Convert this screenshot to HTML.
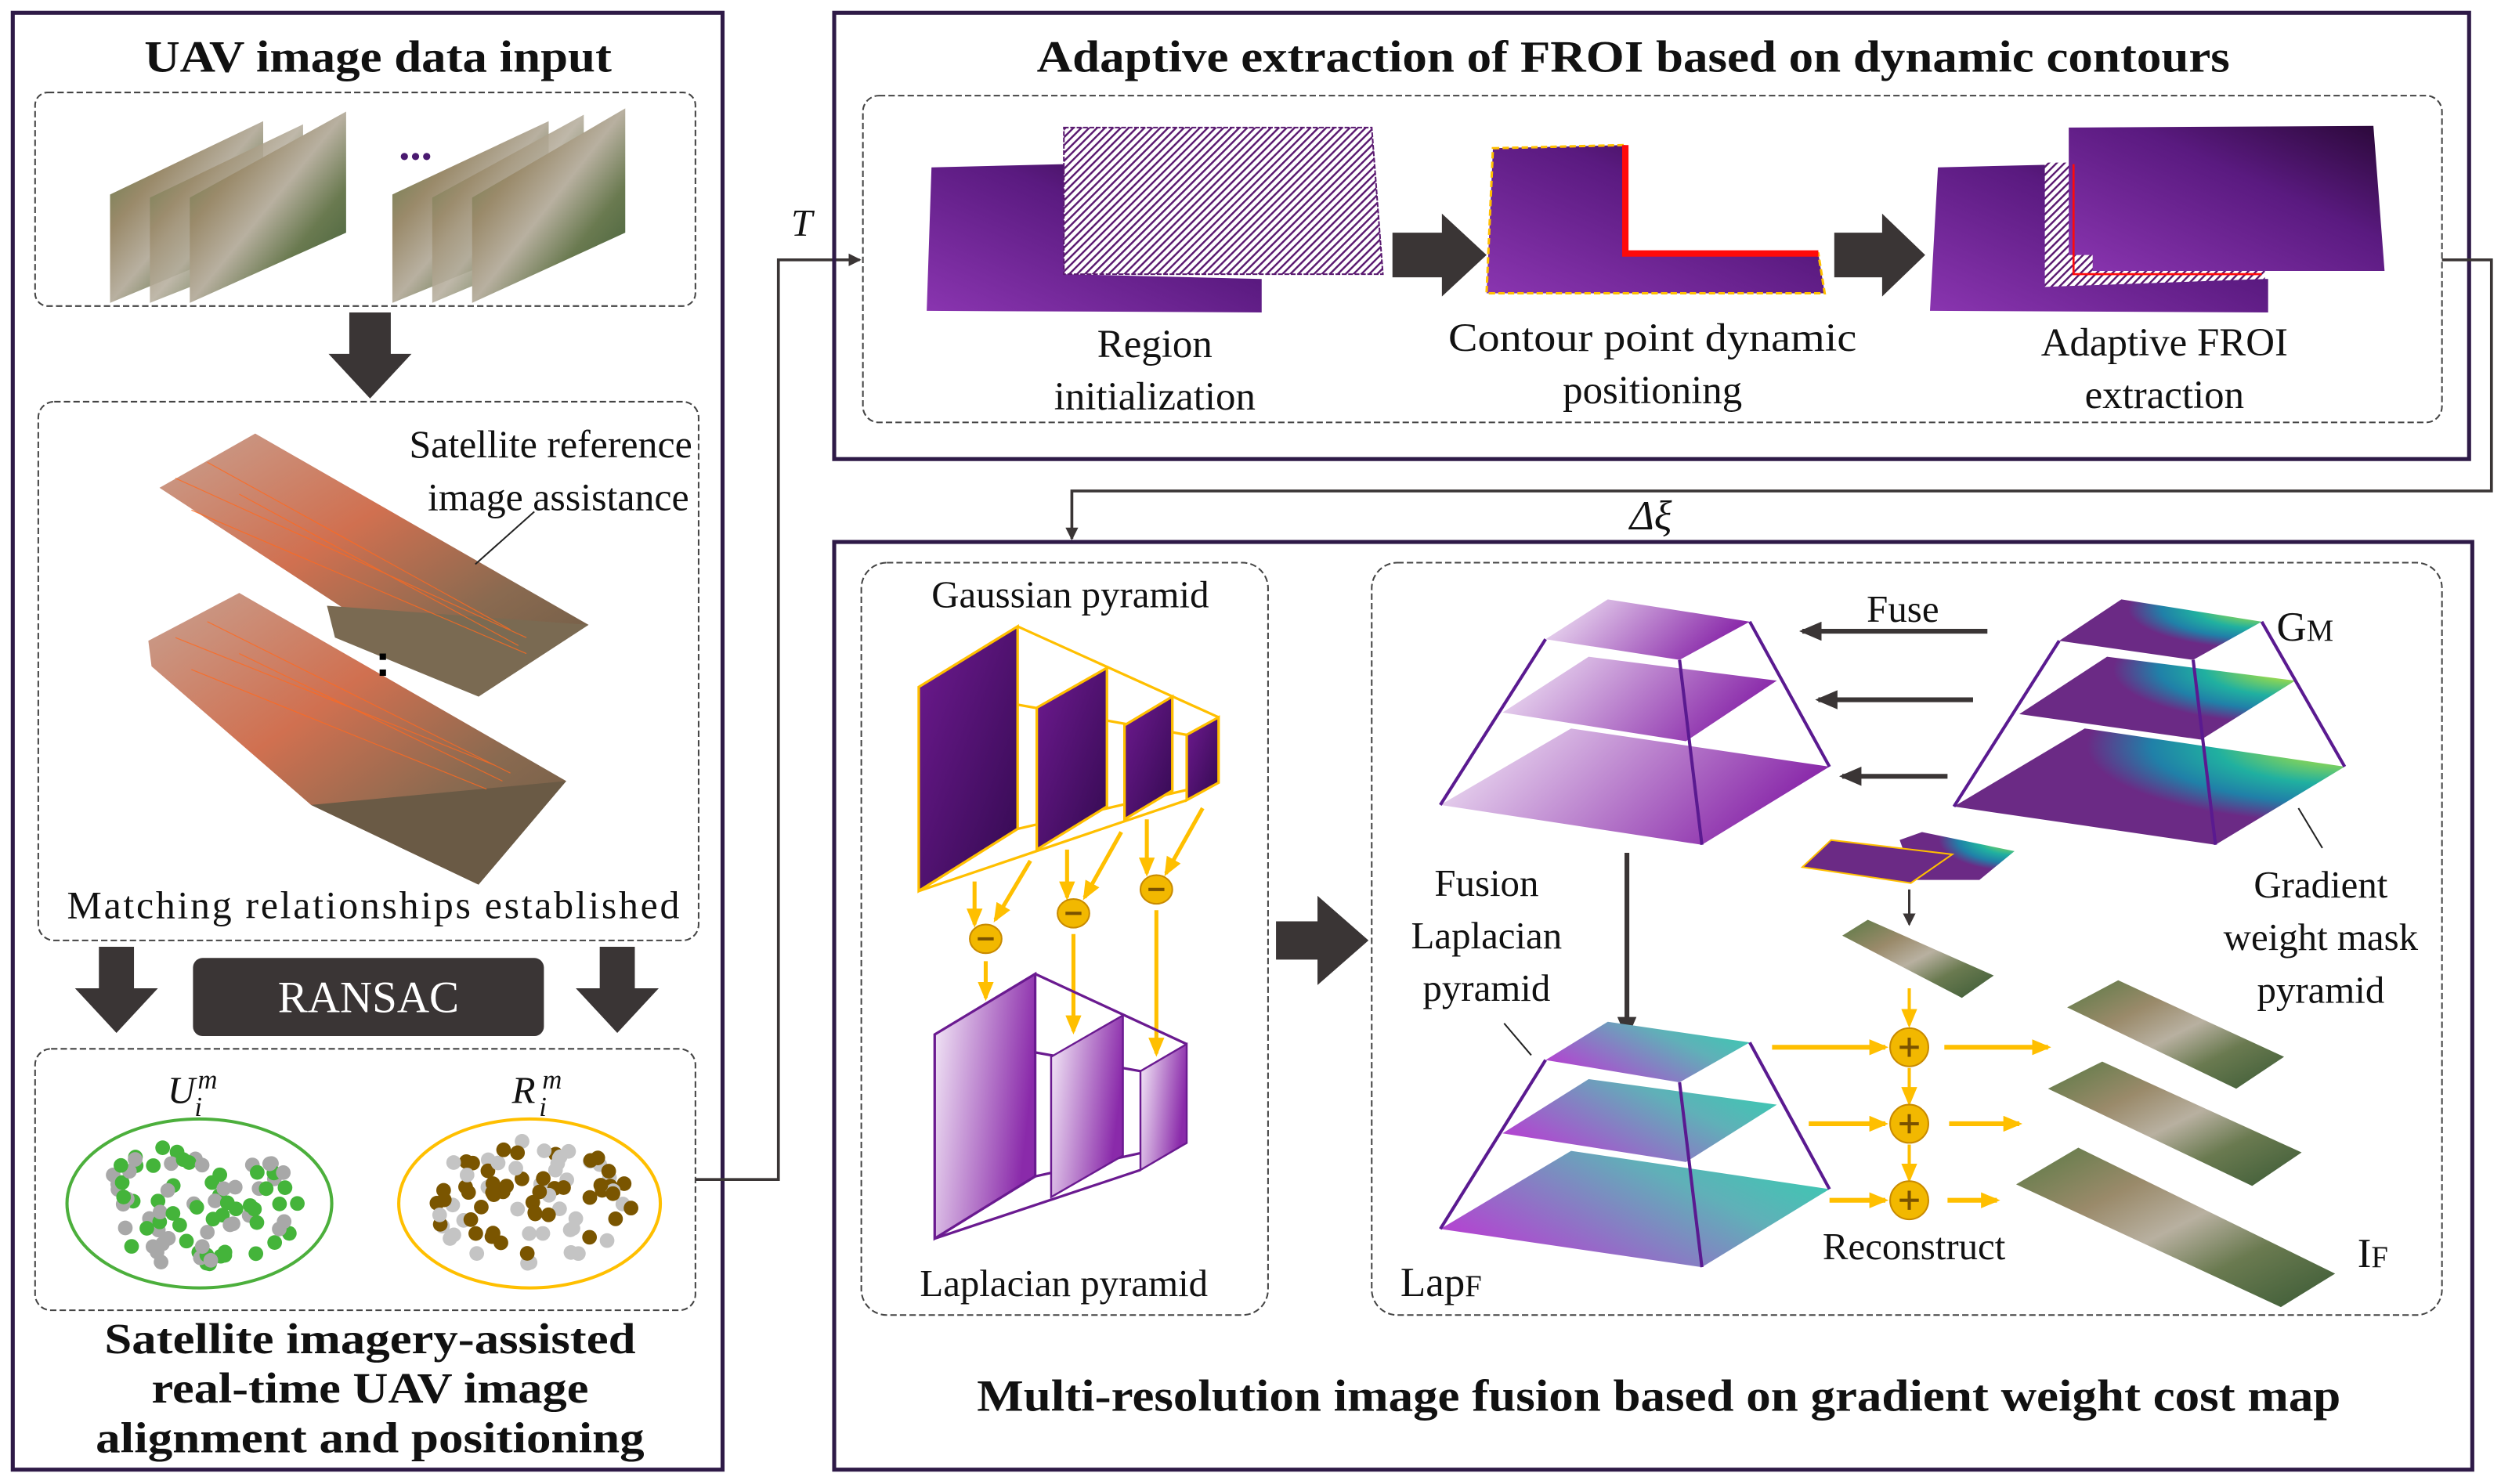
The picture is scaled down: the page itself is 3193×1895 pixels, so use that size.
<!DOCTYPE html>
<html><head><meta charset="utf-8"><style>
html,body{margin:0;padding:0;background:#fff}
svg{display:block}
text{font-family:"Liberation Serif",serif;fill:#111}
</style></head><body>
<svg id="s" width="3193" height="1895" viewBox="0 0 1568 931" preserveAspectRatio="none" xmlns="http://www.w3.org/2000/svg">
<defs>
<linearGradient id="pur" x1="0" y1="1" x2="1" y2="0"><stop offset="0" stop-color="#8a35b0"/><stop offset="0.6" stop-color="#5a1a80"/><stop offset="1" stop-color="#2a0838"/></linearGradient>
<linearGradient id="dk" x1="0" y1="0" x2="1" y2="1"><stop offset="0" stop-color="#6e1a90"/><stop offset="1" stop-color="#330a50"/></linearGradient>
<linearGradient id="lt" x1="0" y1="0" x2="1" y2="0.3"><stop offset="0" stop-color="#f6eef9"/><stop offset="1" stop-color="#8a2aaa"/></linearGradient>
<radialGradient id="vir" cx="1" cy="0.15" r="1.1" fx="1" fy="0.15"><stop offset="0" stop-color="#f5f020"/><stop offset="0.15" stop-color="#7ad060"/><stop offset="0.3" stop-color="#20b0a0"/><stop offset="0.45" stop-color="#2080a8"/><stop offset="0.6" stop-color="#6b2a85"/><stop offset="1" stop-color="#6b2a85"/></radialGradient>
<linearGradient id="lap" x1="0" y1="0.6" x2="1" y2="0"><stop offset="0" stop-color="#b048d0"/><stop offset="0.6" stop-color="#60b0b8"/><stop offset="1" stop-color="#30d0b0"/></linearGradient>
<linearGradient id="aer" x1="0" y1="0" x2="1" y2="1"><stop offset="0" stop-color="#5a7a45"/><stop offset="0.3" stop-color="#9a8a6a"/><stop offset="0.5" stop-color="#b8b0a0"/><stop offset="0.7" stop-color="#6a7a50"/><stop offset="1" stop-color="#3a5a35"/></linearGradient>
<linearGradient id="mat" x1="0" y1="0" x2="1" y2="1"><stop offset="0" stop-color="#c8a090"/><stop offset="0.4" stop-color="#d07050"/><stop offset="0.7" stop-color="#8a6a50"/><stop offset="1" stop-color="#6a5a45"/></linearGradient>
<pattern id="hatch" width="3.5" height="3.5" patternUnits="userSpaceOnUse" patternTransform="rotate(45)"><rect width="3.5" height="3.5" fill="#fff"/><rect width="1.2" height="3.5" fill="#5a1a70"/></pattern>
<marker id="ah" markerWidth="8" markerHeight="8" refX="7" refY="4" orient="auto" markerUnits="userSpaceOnUse"><path d="M0,0 L8,4 L0,8z" fill="#3a3535"/></marker>
<marker id="ahb" markerWidth="14" markerHeight="12" refX="12" refY="6" orient="auto" markerUnits="userSpaceOnUse"><path d="M0,0 L14,6 L0,12z" fill="#3a3535"/></marker>
<marker id="ay" markerWidth="12" markerHeight="10" refX="10" refY="5" orient="auto" markerUnits="userSpaceOnUse"><path d="M0,0 L12,5 L0,10z" fill="#ffbf00"/></marker>
</defs>

<!-- LEFT PANEL -->
<rect x="8" y="8" width="445" height="914" fill="none" stroke="#2e1a47" stroke-width="2.5"/>
<text x="237" y="45" font-size="28" font-weight="bold" text-anchor="middle" textLength="293" lengthAdjust="spacingAndGlyphs">UAV image data input</text>
<rect x="22" y="58" width="414" height="134" rx="8" fill="none" stroke="#444" stroke-dasharray="4,2" stroke-width="1"/>
<polygon points="69,122 165,76 165,150 69,190" fill="url(#aer)"/>
<polygon points="94,124 190,78 190,152 94,190" fill="url(#aer)" opacity="0.9"/>
<polygon points="119,124 217,70 217,146 119,190" fill="url(#aer)"/>
<polygon points="246,122 344,76 344,150 246,190" fill="url(#aer)"/>
<polygon points="271,124 366,72 366,150 271,190" fill="url(#aer)" opacity="0.9"/>
<polygon points="296,124 392,68 392,146 296,190" fill="url(#aer)"/>
<text x="250" y="100" font-size="28" font-weight="bold" style="fill:#4a1a70">...</text>
<polygon points="219,196 245,196 245,222 258,222 232,250 206,222 219,222" fill="#3a3535"/>
<rect x="24" y="252" width="414" height="338" rx="10" fill="none" stroke="#444" stroke-dasharray="4,2" stroke-width="1"/>
<polygon points="100,306 160,272 369,392 300,437" fill="url(#mat)"/>
<polygon points="205,380 369,392 300,437 210,400" fill="#7a6a52"/>
<polygon points="93,402 150,372 355,490 300,555 195,505 95,418" fill="url(#mat)"/>
<polygon points="195,505 355,490 300,555" fill="#6a5a45"/>
<g stroke="#ff6a20" stroke-width="0.6" opacity="0.8">
<line x1="110" y1="300" x2="330" y2="400"/><line x1="130" y1="290" x2="320" y2="395"/><line x1="150" y1="310" x2="325" y2="405"/><line x1="120" y1="320" x2="330" y2="410"/>
<line x1="110" y1="400" x2="310" y2="480"/><line x1="130" y1="390" x2="320" y2="485"/><line x1="150" y1="410" x2="315" y2="490"/><line x1="120" y1="420" x2="305" y2="495"/>
</g>
<rect x="238" y="410" width="4" height="4" fill="#000"/><rect x="238" y="420" width="4" height="4" fill="#000"/>
<line x1="335" y1="321" x2="298" y2="354" stroke="#222" stroke-width="1"/>
<text x="434" y="287" font-size="24.5" text-anchor="end">Satellite reference</text>
<text x="432" y="320" font-size="24.5" text-anchor="end">image assistance</text>
<text x="234" y="576" font-size="24.5" text-anchor="middle" textLength="384">Matching relationships established</text>
<polygon points="62,594 84,594 84,620 99,620 73,648 47,620 62,620" fill="#3a3535"/>
<polygon points="376,594 398,594 398,620 413,620 387,648 361,620 376,620" fill="#3a3535"/>
<rect x="121" y="601" width="220" height="49" rx="6" fill="#3a3535"/>
<text x="231" y="635" font-size="28" text-anchor="middle" style="fill:#fff">RANSAC</text>
<rect x="22" y="658" width="414" height="164" rx="10" fill="none" stroke="#444" stroke-dasharray="4,2" stroke-width="1"/>
<text x="105" y="692" font-size="24" font-style="italic">U</text><text x="124" y="683" font-size="17" font-style="italic">m</text><text x="122" y="700" font-size="17" font-style="italic">i</text>
<text x="321" y="692" font-size="24" font-style="italic">R</text><text x="340" y="683" font-size="17" font-style="italic">m</text><text x="338" y="700" font-size="17" font-style="italic">i</text>
<ellipse cx="125" cy="755" rx="83" ry="53" fill="none" stroke="#4caf3c" stroke-width="2"/>
<ellipse cx="332" cy="755" rx="82" ry="53" fill="none" stroke="#ffbf00" stroke-width="2"/>
<g id="dots"></g>
<text x="232" y="849" font-size="27" font-weight="bold" text-anchor="middle" textLength="333" lengthAdjust="spacingAndGlyphs">Satellite imagery-assisted</text>
<text x="232" y="880" font-size="27" font-weight="bold" text-anchor="middle" textLength="274" lengthAdjust="spacingAndGlyphs">real-time UAV image</text>
<text x="232" y="911" font-size="27" font-weight="bold" text-anchor="middle" textLength="344" lengthAdjust="spacingAndGlyphs">alignment and positioning</text>

<!-- T connector -->
<polyline points="436,740 488,740 488,163 539,163" fill="none" stroke="#3a3535" stroke-width="1.8" marker-end="url(#ah)"/>
<text x="496" y="148" font-size="24" font-style="italic">T</text>

<!-- TOP RIGHT PANEL -->
<rect x="523" y="8" width="1025" height="280" fill="none" stroke="#2e1a47" stroke-width="2.5"/>
<text x="1024" y="45" font-size="28" font-weight="bold" text-anchor="middle" textLength="748" lengthAdjust="spacingAndGlyphs">Adaptive extraction of FROI based on dynamic contours</text>
<rect x="541" y="60" width="990" height="205" rx="10" fill="none" stroke="#444" stroke-dasharray="4,2" stroke-width="1"/>
<polygon points="584,105 667,103 667,172 791,175 791,196 581,195" fill="url(#pur)"/>
<polygon points="667,80 860,80 867,172 667,172" fill="url(#hatch)" stroke="#5a1a70" stroke-width="1" stroke-dasharray="3,1"/>
<polygon points="873,146 904,146 904,134 932,160 904,186 904,174 873,174" fill="#3a3535"/>
<polygon points="936,93 1019,91 1019,159 1140,159 1144,184 932,184" fill="url(#pur)" stroke="#ffbf00" stroke-width="1.5" stroke-dasharray="4,2"/>
<polyline points="1019,91 1019,159 1140,159" fill="none" stroke="#ff0a0a" stroke-width="4"/>
<polygon points="1150,146 1180,146 1180,134 1207,160 1180,186 1180,174 1150,174" fill="#3a3535"/>
<polygon points="1215,105 1300,103 1300,172 1422,175 1422,196 1210,195" fill="url(#pur)"/>
<polygon points="1282,102 1420,102 1420,175 1282,180" fill="url(#hatch)"/>
<polygon points="1297,80 1488,79 1495,170 1312,170 1312,160 1297,160" fill="url(#pur)"/>
<polyline points="1300,103 1300,172 1418,172" fill="none" stroke="#ff0a0a" stroke-width="1.3"/>
<text x="724" y="224" font-size="25" text-anchor="middle">Region</text>
<text x="724" y="257" font-size="25" text-anchor="middle">initialization</text>
<text x="1036" y="220" font-size="25" text-anchor="middle" textLength="256" lengthAdjust="spacingAndGlyphs">Contour point dynamic</text>
<text x="1036" y="253" font-size="25" text-anchor="middle">positioning</text>
<text x="1357" y="223" font-size="25" text-anchor="middle">Adaptive FROI</text>
<text x="1357" y="256" font-size="25" text-anchor="middle">extraction</text>

<!-- Δξ connector -->
<polyline points="1531,163 1562,163 1562,308 672,308 672,338" fill="none" stroke="#3a3535" stroke-width="1.8" marker-end="url(#ah)"/>
<text x="1035" y="332" font-size="26" text-anchor="middle" font-style="italic">Δξ</text>

<!-- BOTTOM RIGHT PANEL -->
<rect x="523" y="340" width="1027" height="582" fill="none" stroke="#2e1a47" stroke-width="2.5"/>
<rect x="540" y="353" width="255" height="472" rx="16" fill="none" stroke="#444" stroke-dasharray="4,2" stroke-width="1"/>
<text x="671" y="381" font-size="24" text-anchor="middle">Gaussian pyramid</text>
<text x="667" y="813" font-size="24" text-anchor="middle">Laplacian pyramid</text>
<g stroke="#ffbf00" stroke-width="1.6" fill="none">
<line x1="638" y1="393" x2="764" y2="450"/><line x1="576" y1="431" x2="744" y2="461"/>
<line x1="576" y1="559" x2="744" y2="502"/><line x1="638" y1="520" x2="764" y2="491"/>
</g>
<polygon points="576,431 638,393 638,520 576,559" fill="url(#dk)" stroke="#ffbf00" stroke-width="1.6"/>
<polygon points="650,444 694,419 694,506 650,533" fill="url(#dk)" stroke="#ffbf00" stroke-width="1.6"/>
<polygon points="705,455 735,437 735,496 705,514" fill="url(#dk)" stroke="#ffbf00" stroke-width="1.6"/>
<polygon points="744,461 764,450 764,491 744,502" fill="url(#dk)" stroke="#ffbf00" stroke-width="1.6"/>
<g stroke="#ffbf00" stroke-width="2.5" fill="none" marker-end="url(#ay)">
<line x1="611" y1="553" x2="611" y2="580"/><line x1="646" y1="540" x2="624" y2="577"/><line x1="618" y1="603" x2="618" y2="626"/>
<line x1="669" y1="533" x2="669" y2="563"/><line x1="703" y1="522" x2="680" y2="563"/><line x1="673" y1="586" x2="673" y2="647"/>
<line x1="719" y1="514" x2="719" y2="548"/><line x1="754" y1="507" x2="731" y2="548"/><line x1="725" y1="571" x2="725" y2="661"/>
</g>
<g fill="#f2b800" stroke="#c88a00" stroke-width="1">
<ellipse cx="618" cy="589" rx="10" ry="9"/><ellipse cx="673" cy="573" rx="10" ry="9"/><ellipse cx="725" cy="558" rx="10" ry="9"/>
</g>
<g stroke="#7a5200" stroke-width="2"><line x1="613" y1="589" x2="623" y2="589"/><line x1="668" y1="573" x2="678" y2="573"/><line x1="720" y1="558" x2="730" y2="558"/></g>
<g stroke="#6a1a90" stroke-width="1.6" fill="none">
<line x1="649" y1="611" x2="744" y2="655"/><line x1="586" y1="649" x2="715" y2="672"/>
<line x1="586" y1="777" x2="715" y2="734"/><line x1="649" y1="738" x2="744" y2="717"/>
</g>
<polygon points="586,649 649,611 649,738 586,777" fill="url(#lt)" stroke="#6a1a90" stroke-width="1.6"/>
<polygon points="659,663 704,637 704,725 659,751" fill="url(#lt)" stroke="#6a1a90" stroke-width="1.2"/>
<polygon points="715,672 744,655 744,717 715,734" fill="url(#lt)" stroke="#6a1a90" stroke-width="1.2"/>

<polygon points="800,578 826,578 826,562 858,590 826,618 826,602 800,602" fill="#3a3535"/>

<rect x="860" y="353" width="671" height="472" rx="16" fill="none" stroke="#444" stroke-dasharray="4,2" stroke-width="1"/>
<polygon points="903,505 985,457 1147,481 1067,530" fill="url(#lt)"/>
<polygon points="942,447 996,412 1114,427 1057,465" fill="url(#lt)"/>
<polygon points="969,401 1008,376 1097,390 1053,414" fill="url(#lt)"/>
<g stroke="#5a1a90" stroke-width="2"><line x1="969" y1="401" x2="903" y2="505"/><line x1="1097" y1="390" x2="1147" y2="481"/><line x1="1053" y1="414" x2="1067" y2="530"/></g>
<polygon points="1225,506 1307,457 1470,481 1389,530" fill="url(#vir)"/>
<polygon points="1266,448 1321,412 1439,427 1380,464" fill="url(#vir)"/>
<polygon points="1291,402 1330,376 1418,390 1375,414" fill="url(#vir)"/>
<g stroke="#5a1a90" stroke-width="2"><line x1="1291" y1="402" x2="1225" y2="506"/><line x1="1418" y1="390" x2="1470" y2="481"/><line x1="1375" y1="414" x2="1389" y2="530"/></g>
<text x="1463" y="402" font-size="26" text-anchor="end">G<tspan font-size="19">M</tspan></text>
<text x="1193" y="390" font-size="24" text-anchor="middle">Fuse</text>
<g stroke="#3a3535" stroke-width="3" marker-end="url(#ahb)">
<line x1="1246" y1="396" x2="1130" y2="396"/><line x1="1237" y1="439" x2="1140" y2="439"/><line x1="1221" y1="487" x2="1155" y2="487"/>
<line x1="1020" y1="535" x2="1020" y2="650"/>
</g>
<polygon points="903,771 985,722 1147,746 1067,795" fill="url(#lap)"/>
<polygon points="942,711 996,677 1114,693 1057,729" fill="url(#lap)"/>
<polygon points="969,665 1008,641 1097,654 1053,679" fill="url(#lap)"/>
<g stroke="#5a1a90" stroke-width="2"><line x1="969" y1="665" x2="903" y2="771"/><line x1="1097" y1="654" x2="1147" y2="746"/><line x1="1053" y1="679" x2="1067" y2="795"/></g>
<text x="932" y="562" font-size="24" text-anchor="middle">Fusion</text>
<text x="932" y="595" font-size="24" text-anchor="middle">Laplacian</text>
<text x="932" y="628" font-size="24" text-anchor="middle">pyramid</text>
<line x1="943" y1="642" x2="960" y2="662" stroke="#222" stroke-width="1"/>
<text x="878" y="813" font-size="26">Lap<tspan font-size="19">F</tspan></text>
<polygon points="1191,527 1205,522 1263,534 1241,552 1200,552" fill="url(#vir)"/>
<polygon points="1130,544 1148,527 1224,536 1198,554" fill="#6b2a85" stroke="#ffbf00" stroke-width="1"/>
<line x1="1197" y1="558" x2="1197" y2="580" stroke="#3a3535" stroke-width="1.5" marker-end="url(#ah)"/>
<polygon points="1155,587 1171,577 1250,612 1230,626" fill="url(#aer)"/>
<g stroke="#ffbf00" stroke-width="3" marker-end="url(#ay)">
<line x1="1111" y1="657" x2="1182" y2="657"/><line x1="1219" y1="657" x2="1284" y2="657"/>
<line x1="1134" y1="705" x2="1182" y2="705"/><line x1="1222" y1="705" x2="1266" y2="705"/>
<line x1="1147" y1="753" x2="1182" y2="753"/><line x1="1221" y1="753" x2="1252" y2="753"/>
</g>
<g stroke="#ffbf00" stroke-width="2" marker-end="url(#ay)">
<line x1="1197" y1="620" x2="1197" y2="643"/><line x1="1197" y1="670" x2="1197" y2="692"/><line x1="1197" y1="718" x2="1197" y2="740"/>
</g>
<g fill="#f2b800" stroke="#c88a00" stroke-width="1"><circle cx="1197" cy="657" r="12"/><circle cx="1197" cy="705" r="12"/><circle cx="1197" cy="753" r="12"/></g>
<g stroke="#7a5200" stroke-width="2"><path d="M1191,657h12M1197,651v12M1191,705h12M1197,699v12M1191,753h12M1197,747v12"/></g>
<text x="1200" y="790" font-size="24" text-anchor="middle">Reconstruct</text>
<polygon points="1296,632 1328,615 1432,663 1402,683" fill="url(#aer)"/>
<polygon points="1284,683 1318,666 1443,723 1412,744" fill="url(#aer)"/>
<polygon points="1264,743 1303,720 1464,799 1430,820" fill="url(#aer)"/>
<text x="1478" y="795" font-size="26">I<tspan font-size="19">F</tspan></text>
<text x="1455" y="563" font-size="24" text-anchor="middle">Gradient</text>
<text x="1455" y="596" font-size="24" text-anchor="middle">weight mask</text>
<text x="1455" y="629" font-size="24" text-anchor="middle">pyramid</text>
<line x1="1441" y1="507" x2="1456" y2="532" stroke="#222" stroke-width="1"/>
<text x="1040" y="885" font-size="28" font-weight="bold" text-anchor="middle" textLength="855" lengthAdjust="spacingAndGlyphs">Multi-resolution image fusion based on gradient weight cost map</text>
</svg>
<script>
(function(){
var g=document.getElementById('dots'),s=7,ns='http://www.w3.org/2000/svg';
function r(){s=(s*16807)%2147483647;return s/2147483647;}
function dot(cx,cy,c){var e=document.createElementNS(ns,'circle');e.setAttribute('cx',cx);e.setAttribute('cy',cy);e.setAttribute('r',4.6);e.setAttribute('fill',c);g.appendChild(e);}
for(var k=0;k<2;k++){var cx=k?332:125;
for(var i=0;i<85;i++){var a=r()*6.283,d=Math.sqrt(r());var x=cx+Math.cos(a)*d*64,y=755+Math.sin(a)*d*40;
dot(x,y,k?(r()<0.6?'#7a5500':'#c4c4c4'):(r()<0.55?'#44b43a':'#a8a8a8'));}}
})();
</script>
</body></html>
